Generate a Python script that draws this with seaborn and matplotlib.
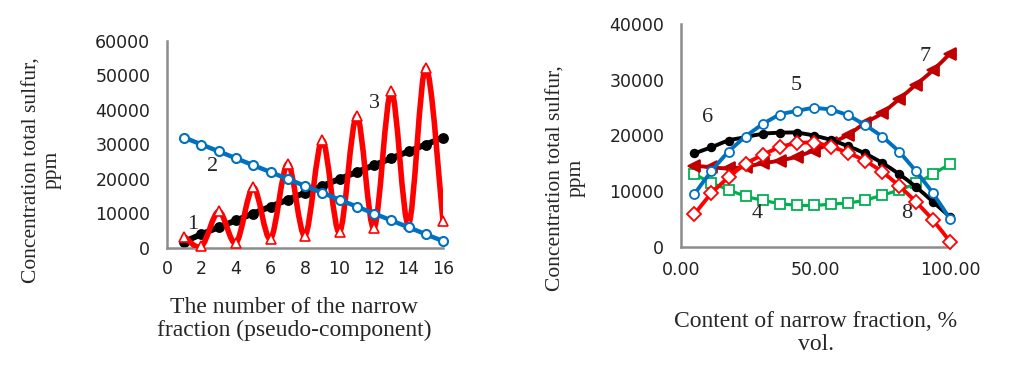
import numpy as np
import pandas as pd
import matplotlib
matplotlib.use("Agg")
import matplotlib.pyplot as plt
import seaborn as sns
from matplotlib.path import Path
from matplotlib.patches import PathPatch
from matplotlib.ticker import FormatStrFormatter

# left chart: sulfur per narrow fraction number
fraction_no = [1, 2, 3, 4, 5, 6, 7, 8, 9, 10, 11, 12, 13, 14, 15, 16]
curve1 = [1800, 4000, 6000, 8000, 10000, 12000, 14000, 16000,
          18000, 20000, 22000, 24000, 26000, 28000, 30000, 32000]
curve2 = [32000, 30000, 28000, 26000, 24000, 22000, 20000, 18000,
          16000, 14000, 12000, 10000, 8000, 6000, 4000, 2000]
curve3 = [3300, 500, 10600, 1500, 17600, 2700, 24400, 3600,
          31200, 4600, 38300, 5700, 45400, 6900, 52300, 7800]

# right chart: sulfur vs content of narrow fraction
content = [5, 11.3, 17.7, 24, 30.3, 36.7, 43, 49.3,
           55.7, 62, 68.3, 74.7, 81, 87.3, 93.7, 100]
curve4 = [13100, 11500, 10300, 9100, 8400, 7800, 7500, 7450,
          7700, 7900, 8400, 9300, 10200, 11400, 13100, 14900]
curve5 = [9500, 13600, 17100, 19800, 22000, 23700, 24400, 24900,
          24600, 23600, 21900, 19800, 17100, 13600, 9600, 5000]
curve6 = [16800, 17900, 19100, 19700, 20300, 20500, 20500, 20000,
          19200, 18100, 16800, 15100, 13100, 10800, 8100, 5400]
curve7 = [14600, 14300, 14100, 14400, 15000, 15500, 16200, 17300,
          18600, 20100, 22200, 24000, 26500, 29100, 31700, 34700]
curve8 = [5900, 9600, 12500, 14900, 16500, 17900, 18600, 18700,
          18000, 16900, 15500, 13500, 11000, 8100, 4800, 950]

W, H = 1012, 372
SPINE = "#8c8c8c"


def smooth_line(ax, x, y, color, lw, z):
    # excel-style smoothed connector (bezier through the data points)
    pts = np.column_stack([x, y]).astype(float)
    n = len(pts)
    verts = [pts[0]]
    codes = [Path.MOVETO]
    for i in range(n - 1):
        p0 = pts[max(i - 1, 0)]
        p1 = pts[i]
        p2 = pts[i + 1]
        p3 = pts[min(i + 2, n - 1)]
        verts += [p1 + (p2 - p0) / 6, p2 - (p3 - p1) / 6, p2]
        codes += [Path.CURVE4] * 3
    patch = PathPatch(Path(verts, codes), fill=False, edgecolor=color,
                      lw=lw, capstyle="round", joinstyle="round", zorder=z)
    ax.add_patch(patch)


def series(ax, df, xcol, ycol, color, lw, z, marker, ms, face=None, mew=1.3):
    smooth_line(ax, df[xcol], df[ycol], color, lw, z)
    sns.lineplot(data=df, x=xcol, y=ycol, ax=ax, linestyle="none",
                 marker=marker, markersize=ms,
                 markerfacecolor=face if face else color,
                 markeredgecolor=color, markeredgewidth=mew, zorder=z + 0.5)


def style_axes(ax):
    sns.despine(ax=ax)
    for s in ("left", "bottom"):
        ax.spines[s].set_color(SPINE)
        ax.spines[s].set_linewidth(1.8)
    ax.tick_params(direction="in", length=4, width=1.5, color=SPINE,
                   labelsize=12.5, labelcolor="#222222")
    ax.tick_params(axis="y", pad=12)
    ax.tick_params(axis="x", pad=9)
    ax.set_xlabel("")
    ax.set_ylabel("")
    ax.grid(False)
    for line in ax.get_lines():
        line.set_clip_on(False)


def serif(fig, x, y, s, **kw):
    fig.text(x / W, 1 - y / H, s, family="Liberation Serif",
             ha="center", va="center", **kw)


sns.set_style("white")
plt.rcParams["font.family"] = ["DejaVu Sans"]

fig = plt.figure(figsize=(W / 100, H / 100), dpi=100)

# ---- left chart
ax1 = fig.add_axes([167 / W, 1 - 248 / H, (443 - 167) / W, (248 - 41) / H])
ax1.set_xlim(0, 16)
ax1.set_ylim(0, 60000)
df1 = pd.DataFrame({"n": fraction_no, "c1": curve1, "c2": curve2, "c3": curve3})
series(ax1, df1, "n", "c1", "black", 4.2, 2, "o", 6.5)
series(ax1, df1, "n", "c3", "#ff0000", 4, 3, "^", 7, face="white", mew=1.2)
series(ax1, df1, "n", "c2", "#0070c0", 3.2, 4, "o", 6.5, face="white", mew=1.5)
ax1.set_xticks(range(0, 17, 2))
ax1.set_yticks(range(0, 60001, 10000))
style_axes(ax1)
for txt, xv, yv in [("1", 1.5, 6800), ("2", 2.65, 23700), ("3", 12.0, 42000)]:
    ax1.text(xv, yv, txt, family="Liberation Serif", fontsize=16,
             ha="center", va="center")

# ---- right chart
ax2 = fig.add_axes([681 / W, 1 - 247 / H, (950 - 681) / W, (247 - 24) / H])
ax2.set_xlim(0, 100)
ax2.set_ylim(0, 40000)
df2 = pd.DataFrame({"v": content, "c4": curve4, "c5": curve5,
                    "c6": curve6, "c7": curve7, "c8": curve8})
series(ax2, df2, "v", "c4", "#00b050", 2.3, 2, "s", 6.5, face="white")
series(ax2, df2, "v", "c7", "#c00000", 2.8, 3, "<", 8)
series(ax2, df2, "v", "c6", "black", 2.8, 4, "o", 5.5)
series(ax2, df2, "v", "c8", "#ff0000", 2.8, 5, "D", 7.5, face="white")
series(ax2, df2, "v", "c5", "#0070c0", 2.8, 6, "o", 6.5, face="white")
ax2.set_xticks([0, 50, 100])
ax2.set_yticks(range(0, 40001, 10000))
ax2.xaxis.set_major_formatter(FormatStrFormatter("%.2f"))
style_axes(ax2)
ax2.tick_params(axis="x", pad=10)
for txt, xv, yv in [("6", 10, 23300), ("5", 43, 28900), ("7", 90.7, 34100),
                    ("4", 28.5, 6000), ("8", 83.8, 6000)]:
    ax2.text(xv, yv, txt, family="Liberation Serif", fontsize=16,
             ha="center", va="center")

# axis titles
serif(fig, 42, 170, "Concentration total sulfur,\nppm", rotation=90,
      fontsize=15.5, linespacing=1.1)
serif(fig, 294, 319, "The number of the narrow\nfraction (pseudo-component)",
      fontsize=17, linespacing=1.1)
serif(fig, 566, 178, "Concentration total sulfur,\nppm", rotation=90,
      fontsize=15.5, linespacing=1.1)
serif(fig, 816, 333, "Content of narrow fraction, %\nvol.",
      fontsize=17, linespacing=1.1)

fig.savefig("out.png", dpi=100)
